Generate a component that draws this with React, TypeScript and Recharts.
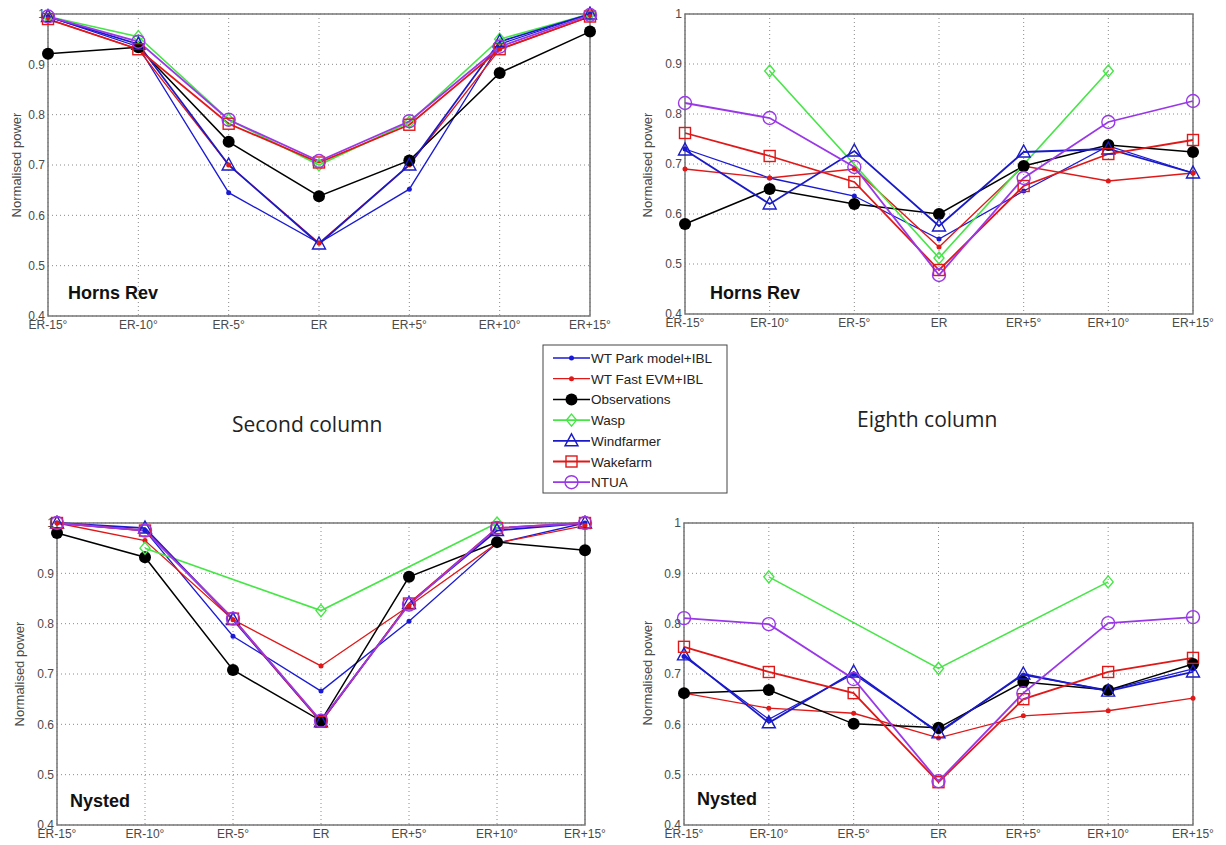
import React from 'react';
import { LineChart, Line, XAxis, YAxis, CartesianGrid, ReferenceArea } from 'recharts';

const angles = ['ER-15°', 'ER-10°', 'ER-5°', 'ER', 'ER+5°', 'ER+10°', 'ER+15°'];
const powerTicks = [0.4, 0.5, 0.6, 0.7, 0.8, 0.9, 1];

// Horns Rev, second column
const hr2Park = [0.995, 0.935, 0.645, 0.545, 0.652, 0.94, 1.0];
const hr2Fast = [0.99, 0.93, 0.7, 0.545, 0.7, 0.93, 0.995];
const hr2Obs = [0.921, 0.934, 0.746, 0.638, 0.709, 0.883, 0.965];
const hr2Wasp = [0.995, 0.955, 0.79, 0.7, 0.785, 0.95, 1.0];
const hr2Windfarmer = [0.995, 0.94, 0.7, 0.543, 0.7, 0.945, 1.0];
const hr2Wakefarm = [0.99, 0.93, 0.782, 0.705, 0.78, 0.93, 0.995];
const hr2Ntua = [0.995, 0.945, 0.79, 0.708, 0.787, 0.935, 0.998];

// Horns Rev, eighth column
const hr8Park = [0.73, 0.672, 0.636, 0.55, 0.646, 0.736, 0.682];
const hr8Fast = [0.69, 0.672, 0.69, 0.534, 0.696, 0.666, 0.682];
const hr8Obs = [0.58, 0.65, 0.62, 0.6, 0.696, 0.738, 0.724];
const hr8Wasp = [null, 0.886, null, 0.512, null, 0.886, null];
const hr8Windfarmer = [0.728, 0.62, 0.726, 0.576, 0.724, 0.73, 0.682];
const hr8Wakefarm = [0.762, 0.716, 0.664, 0.488, 0.656, 0.72, 0.748];
const hr8Ntua = [0.822, 0.792, 0.694, 0.478, 0.672, 0.784, 0.826];

// Nysted, second column
const ny2Park = [1.0, 0.985, 0.775, 0.666, 0.805, 0.96, 1.0];
const ny2Fast = [1.0, 0.965, 0.808, 0.716, 0.835, 0.96, 0.995];
const ny2Obs = [0.98, 0.932, 0.708, 0.607, 0.893, 0.962, 0.946];
const ny2Wasp = [null, 0.95, null, 0.826, null, 1.0, null];
const ny2Windfarmer = [1.0, 0.99, 0.808, 0.605, 0.84, 0.985, 1.0];
const ny2Wakefarm = [1.0, 0.985, 0.81, 0.605, 0.84, 0.99, 1.0];
const ny2Ntua = [1.0, 0.985, 0.81, 0.607, 0.838, 0.99, 1.0];

// Nysted, eighth column
const ny8Park = [0.735, 0.61, 0.7, 0.585, 0.698, 0.668, 0.71];
const ny8Fast = [0.662, 0.632, 0.622, 0.573, 0.617, 0.627, 0.652];
const ny8Obs = [0.662, 0.668, 0.601, 0.593, 0.684, 0.668, 0.72];
const ny8Wasp = [null, 0.893, null, 0.711, null, 0.883, null];
const ny8Windfarmer = [0.738, 0.603, 0.704, 0.583, 0.7, 0.666, 0.704];
const ny8Wakefarm = [0.754, 0.704, 0.662, 0.485, 0.65, 0.704, 0.732];
const ny8Ntua = [0.811, 0.799, 0.69, 0.487, 0.662, 0.801, 0.813];

type Marker = 'dot' | 'bigdot' | 'diamond' | 'triangle' | 'square' | 'circle';

const models: { key: string; name: string; color: string; marker: Marker; width: number }[] = [
    { key: 'park', name: 'WT Park model+IBL', color: '#1a1ad6', marker: 'dot', width: 1.3 },
    { key: 'fast', name: 'WT Fast EVM+IBL', color: '#e01818', marker: 'dot', width: 1.3 },
    { key: 'obs', name: 'Observations', color: '#000000', marker: 'bigdot', width: 1.5 },
    { key: 'wasp', name: 'Wasp', color: '#46e646', marker: 'diamond', width: 1.6 },
    { key: 'windfarmer', name: 'Windfarmer', color: '#1a1ac8', marker: 'triangle', width: 1.8 },
    { key: 'wakefarm', name: 'Wakefarm', color: '#e01818', marker: 'square', width: 1.8 },
    { key: 'ntua', name: 'NTUA', color: '#9a38e8', marker: 'circle', width: 1.8 },
];

const drawMarker = (marker: Marker, color: string, cx: number, cy: number, key: string) => {
    switch (marker) {
        case 'dot':
            return <circle key={key} cx={cx} cy={cy} r={2.5} fill={color} stroke="none" />;
        case 'bigdot':
            return <circle key={key} cx={cx} cy={cy} r={6} fill={color} stroke="none" />;
        case 'diamond':
            return (
                <polygon
                    key={key}
                    points={`${cx},${cy - 6} ${cx + 5},${cy} ${cx},${cy + 6} ${cx - 5},${cy}`}
                    fill="none"
                    stroke={color}
                    strokeWidth={1.4}
                />
            );
        case 'triangle':
            return (
                <polygon
                    key={key}
                    points={`${cx},${cy - 7} ${cx + 6.5},${cy + 5} ${cx - 6.5},${cy + 5}`}
                    fill="none"
                    stroke={color}
                    strokeWidth={1.4}
                />
            );
        case 'square':
            return <rect key={key} x={cx - 5.5} y={cy - 5.5} width={11} height={11} fill="none" stroke={color} strokeWidth={1.4} />;
        default:
            return <circle key={key} cx={cx} cy={cy} r={6.5} fill="none" stroke={color} strokeWidth={1.4} />;
    }
};

const buildRows = (cols: (number | null)[][]) =>
    angles.map((angle, i) => {
        const row: { [k: string]: string | number | null } = { angle };
        models.forEach((m, j) => {
            row[m.key] = cols[j][i];
        });
        return row;
    });

const panels = [
    {
        site: 'Horns Rev',
        rows: buildRows([hr2Park, hr2Fast, hr2Obs, hr2Wasp, hr2Windfarmer, hr2Wakefarm, hr2Ntua]),
        left: 48, top: 14, width: 542, height: 302,
        siteX: 68, siteY: 282, labelX: 17, labelY: 165,
    },
    {
        site: 'Horns Rev',
        rows: buildRows([hr8Park, hr8Fast, hr8Obs, hr8Wasp, hr8Windfarmer, hr8Wakefarm, hr8Ntua]),
        left: 685, top: 14, width: 508, height: 300,
        siteX: 710, siteY: 282, labelX: 648, labelY: 165,
    },
    {
        site: 'Nysted',
        rows: buildRows([ny2Park, ny2Fast, ny2Obs, ny2Wasp, ny2Windfarmer, ny2Wakefarm, ny2Ntua]),
        left: 57, top: 523, width: 528, height: 302,
        siteX: 70, siteY: 790, labelX: 20, labelY: 674,
    },
    {
        site: 'Nysted',
        rows: buildRows([ny8Park, ny8Fast, ny8Obs, ny8Wasp, ny8Windfarmer, ny8Wakefarm, ny8Ntua]),
        left: 684, top: 523, width: 509, height: 302,
        siteX: 697, siteY: 788, labelX: 648, labelY: 673,
    },
];

const tickStyle = { fontSize: 12, fill: '#4a4a4a', fontFamily: 'Liberation Sans, Arial, sans-serif' };

const Panel = ({ p }: { p: (typeof panels)[number] }) => {
    const yW = 40;
    const rPad = 32;
    const tPad = 8;
    const xH = 19;
    return (
        <>
            <div style={{ position: 'absolute', left: p.left - yW, top: p.top - tPad }}>
                <LineChart
                    width={yW + p.width + rPad}
                    height={tPad + p.height + xH}
                    data={p.rows}
                    margin={{ top: tPad, right: rPad, bottom: 0, left: 0 }}
                >
                    <CartesianGrid stroke="#8a8a8a" strokeDasharray="1 3" />
                    <XAxis
                        dataKey="angle"
                        height={xH}
                        interval={0}
                        axisLine={false}
                        tickLine={false}
                        tickSize={0}
                        tickMargin={4}
                        tick={tickStyle}
                    />
                    <YAxis
                        type="number"
                        domain={[0.4, 1]}
                        ticks={powerTicks}
                        width={yW}
                        axisLine={false}
                        tickLine={false}
                        tickSize={0}
                        tickMargin={3}
                        tick={tickStyle}
                        tickFormatter={(v: number) => String(v)}
                    />
                    <ReferenceArea
                        x1={angles[0]}
                        x2={angles[angles.length - 1]}
                        y1={0.4}
                        y2={1}
                        fill="none"
                        fillOpacity={0}
                        stroke="#777"
                        strokeWidth={1.5}
                    />
                    {models.map((m) => (
                        <Line
                            key={m.key}
                            type="linear"
                            dataKey={m.key}
                            name={m.name}
                            stroke={m.color}
                            strokeWidth={m.width}
                            connectNulls
                            activeDot={false}
                            isAnimationActive={false}
                            dot={(props: any) => {
                                const k = `${m.key}-${props.index}`;
                                if (props.value == null || props.cy == null) return <g key={k} />;
                                return drawMarker(m.marker, m.color, props.cx, props.cy, k);
                            }}
                        />
                    ))}
                </LineChart>
            </div>
            <div
                style={{
                    position: 'absolute',
                    left: p.labelX - 80,
                    top: p.labelY - 8,
                    width: 160,
                    height: 16,
                    lineHeight: '16px',
                    textAlign: 'center',
                    transform: 'rotate(-90deg)',
                    fontFamily: 'Liberation Sans, Arial, sans-serif',
                    fontSize: 13,
                    color: '#4a4a4a',
                }}
            >
                Normalised power
            </div>
            <div
                style={{
                    position: 'absolute',
                    left: p.siteX,
                    top: p.siteY,
                    fontFamily: 'Liberation Sans, Arial, sans-serif',
                    fontWeight: 'bold',
                    fontSize: 18,
                    lineHeight: '22px',
                    color: '#111',
                }}
            >
                {p.site}
            </div>
        </>
    );
};

const LegendBox = () => {
    const rowH = 20.7;
    return (
        <svg width={186} height={150} style={{ position: 'absolute', left: 542, top: 344 }}>
            <rect x={1} y={1} width={184} height={148} fill="#fff" stroke="#444" strokeWidth={1} />
            {models.map((m, i) => {
                const y = 14 + i * rowH;
                return (
                    <g key={m.key}>
                        <line x1={11} x2={48} y1={y} y2={y} stroke={m.color} strokeWidth={m.width} />
                        {drawMarker(m.marker, m.color, 29.5, y, `lg-${m.key}`)}
                        <text
                            x={49}
                            y={y + 5}
                            fontSize={13.5}
                            fill="#222"
                            fontFamily="Liberation Sans, Arial, sans-serif"
                        >
                            {m.name}
                        </text>
                    </g>
                );
            })}
        </svg>
    );
};

const columnText = {
    position: 'absolute' as const,
    fontFamily: 'Open Sans, sans-serif',
    fontSize: 21,
    lineHeight: '28px',
    color: '#222',
};

export default function App() {
    return (
        <div style={{ position: 'absolute', left: 0, top: 0, width: 1226, height: 845, background: '#fff' }}>
            {panels.map((p, i) => (
                <Panel key={i} p={p} />
            ))}
            <LegendBox />
            <div style={{ ...columnText, left: 232, top: 410 }}>Second column</div>
            <div style={{ ...columnText, left: 857, top: 405 }}>Eighth column</div>
        </div>
    );
}
